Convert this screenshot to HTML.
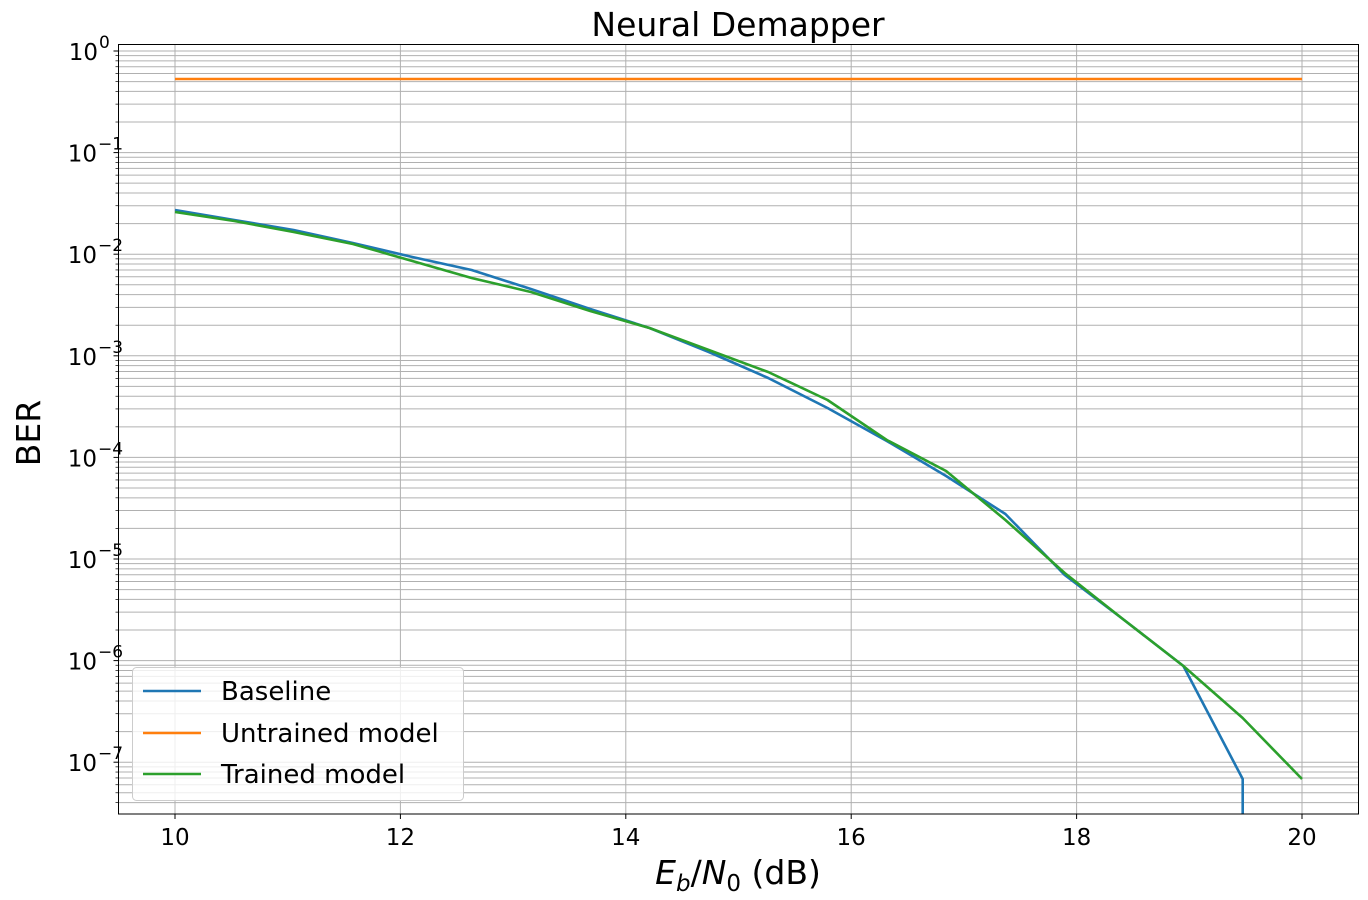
<!DOCTYPE html>
<html><head><meta charset="utf-8"><style>
body{margin:0;background:#fff}
svg{display:block;font-family:"DejaVu Sans","Liberation Sans",sans-serif}
</style></head><body>
<svg id="s" width="1368" height="900" xmlns="http://www.w3.org/2000/svg"></svg>
<script>
const s=document.getElementById('s');
const L=118.5,R=1358.5,T=44.5,B=814;
const X=v=>175+(v-10)*112.7;
const Y0=51,D=101.6;
const Yl=e=>Y0-e*D;
let h='';
for(let d=0;d>=-8;d--){for(let k=1;k<=9;k++){const y=Yl(d+Math.log10(k));if(y<T||y>B)continue;
h+=`<line x1="${L}" x2="${R}" y1="${y}" y2="${y}" stroke="#b0b0b0" stroke-width="1"/>`;
h+=`<line x1="${L}" x2="${L-(k==1?5:3)}" y1="${y}" y2="${y}" stroke="#000" stroke-width="${k==1?1:0.7}"/>`;}}
for(let v=10;v<=20;v+=2){const x=X(v);h+=`<line x1="${x}" x2="${x}" y1="${T}" y2="${B}" stroke="#b0b0b0" stroke-width="1"/><line x1="${x}" x2="${x}" y1="${B}" y2="${B+5}" stroke="#000"/><text x="${x}" y="${B+31}" font-size="23" text-anchor="middle">${v}</text>`;}
for(let d=0;d>=-7;d--){const y=Yl(d);h+=`<text x="${d==0?98:97}" y="${y+9}" font-size="23" text-anchor="end">10</text><text x="${d==0?99:98}" y="${y-3}" font-size="17">${d==0?'0':'−'+(-d)}</text>`;}
const xs=[];for(let i=0;i<20;i++)xs.push(10+i*10/19);
const base=[210,220,230,243,257,270,289,309,328,352,378,408,441,476,514,575,620,666,779];
const tr=[212,221,232,244,261,278,292,311,328,350,372,400,440,471,520,573,620,666,718,779];
const pl=(ys,c,extra)=>{let p=ys.map((y,i)=>X(xs[i]).toFixed(1)+','+y).join(' ');if(extra)p+=' '+extra;return `<polyline points="${p}" fill="none" stroke="${c}" stroke-width="2.6" stroke-linejoin="round"/>`;};
h+=`<line x1="${X(10)}" x2="${X(20)}" y1="79" y2="79" stroke="#ff7f0e" stroke-width="2.6"/>`;
h+=pl(base,'#1f77b4',X(xs[18]).toFixed(1)+','+B);
h+=pl(tr,'#2ca02c');
h+=`<rect x="${L}" y="${T}" width="${R-L}" height="${B-T}" fill="none" stroke="#000" stroke-width="1"/>`;
h+=`<rect x="132.5" y="667.5" width="331" height="133" rx="4" fill="#fff" fill-opacity="0.8" stroke="#ccc"/>`;
[['Baseline','#1f77b4',691],['Untrained model','#ff7f0e',733],['Trained model','#2ca02c',774]].forEach(([t,c,y])=>{h+=`<line x1="143" x2="201" y1="${y}" y2="${y}" stroke="${c}" stroke-width="2.6"/><text x="221" y="${y+9}" font-size="26">${t}</text>`;});
h+=`<text x="738" y="36" font-size="33" text-anchor="middle">Neural Demapper</text>`;
h+=`<text x="738" y="884" font-size="33" text-anchor="middle"><tspan font-style="italic">E</tspan><tspan font-style="italic" font-size="23" dy="7">b</tspan><tspan dy="-7">/</tspan><tspan font-style="italic">N</tspan><tspan font-size="23" dy="7">0</tspan><tspan dy="-7"> (dB)</tspan></text>`;
h+=`<text transform="translate(40,433) rotate(-90)" font-size="33" text-anchor="middle">BER</text>`;
s.innerHTML=h;
</script>
</body></html>
